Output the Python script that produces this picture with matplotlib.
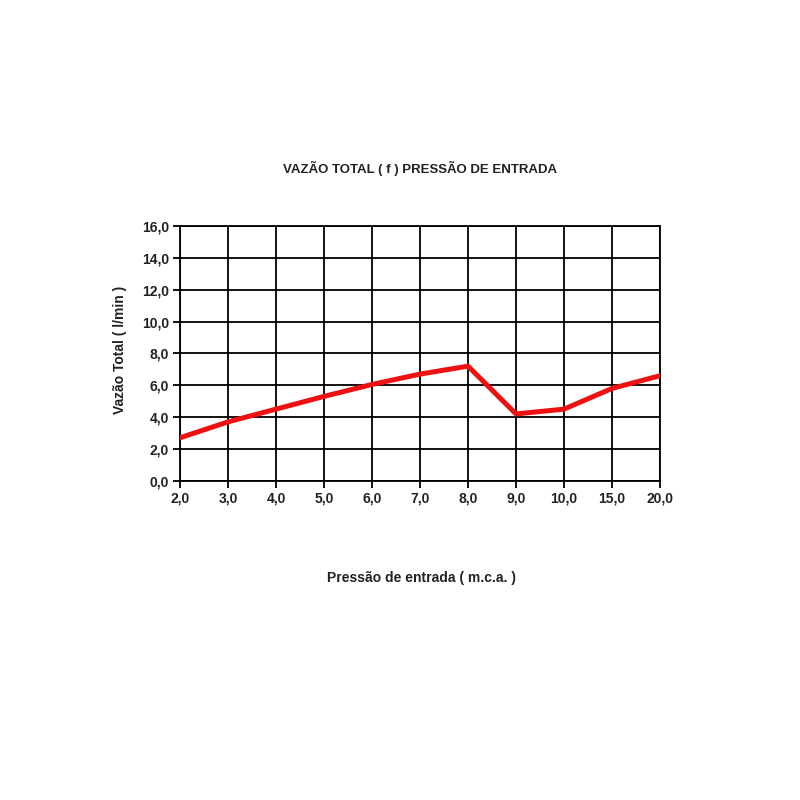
import matplotlib.pyplot as plt

plt.rcParams['font.family'] = ['Liberation Sans', 'DejaVu Sans']

# Data
pressao = ["2,0", "3,0", "4,0", "5,0", "6,0", "7,0", "8,0", "9,0", "10,0", "15,0", "20,0"]
vazao = [2.7, 3.7, 4.5, 5.3, 6.05, 6.7, 7.2, 4.2, 4.5, 5.8, 6.6]
y_ticks = [0, 2, 4, 6, 8, 10, 12, 14, 16]
y_labels = ["0,0", "2,0", "4,0", "6,0", "8,0", "10,0", "12,0", "14,0", "16,0"]

fig = plt.figure(figsize=(8, 8), dpi=100)
ax = fig.add_axes([0.225, 0.399, 0.6, 0.3185])

x = list(range(len(pressao)))
ax.plot(x, vazao, color='#ee1111', linewidth=3.6, solid_joinstyle='miter', zorder=3)

ax.set_xlim(0, len(pressao) - 1)
ax.set_ylim(0, 16)
ax.set_xticks(x)
ax.set_xticklabels(pressao)
ax.set_yticks(y_ticks)
ax.set_yticklabels(y_labels)
ax.grid(True, color='black', linewidth=1.3)
for s in ax.spines.values():
    s.set_linewidth(1.3)
ax.tick_params(direction='out', length=5, width=1.3, labelsize=10, pad=3)
for lab in ax.get_xticklabels() + ax.get_yticklabels():
    lab.set_fontweight('bold')
    lab.set_color('#222222')

fig.text(0.525, 0.79, "VAZÃO TOTAL ( f ) PRESSÃO DE ENTRADA", ha='center', va='center',
         fontsize=9.5, fontweight='bold', color='#222222')
fig.text(0.527, 0.278, "Pressão de entrada ( m.c.a. )", ha='center', va='center',
         fontsize=10, fontweight='bold', color='#222222')
fig.text(0.15, 0.563, "Vazão Total ( l/min )", ha='center', va='center', rotation=90,
         fontsize=10, fontweight='bold', color='#222222')

fig.savefig("out.png", dpi=100, facecolor='white')
